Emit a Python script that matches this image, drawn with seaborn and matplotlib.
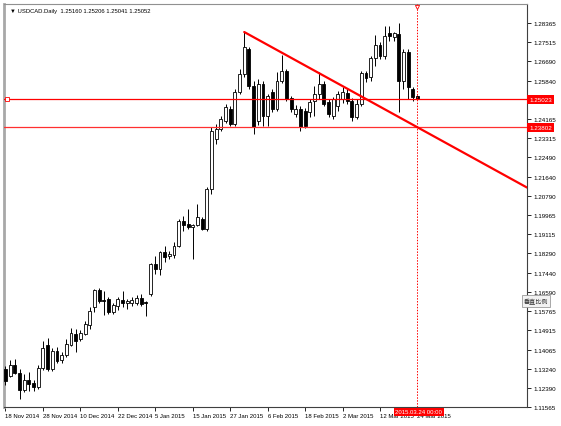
import numpy as np
import pandas as pd
import matplotlib
matplotlib.use("Agg")
import matplotlib.pyplot as plt
import matplotlib.transforms as mtransforms
import seaborn as sns

# ---- data ----
opens = [1.1323, 1.1292, 1.1340, 1.1305, 1.1231, 1.1275, 1.1262, 1.1244, 1.1327, 1.1428,
         1.1323, 1.1402, 1.1362, 1.1384, 1.1428, 1.1476, 1.1454, 1.1476, 1.1515, 1.1594,
         1.1668, 1.1624, 1.1629, 1.1572, 1.1598, 1.1625, 1.1612, 1.1612, 1.1612, 1.1633,
         1.1616, 1.1651, 1.1782, 1.1760, 1.1835, 1.1817, 1.1822, 1.1861, 1.1970, 1.1957,
         1.1944, 1.1953, 1.1979, 1.1935, 1.2110, 1.2329, 1.2373, 1.2408, 1.2460, 1.2395,
         1.2535, 1.2613, 1.2723, 1.2561, 1.2408, 1.2570, 1.2430, 1.2535, 1.2460, 1.2583,
         1.2627, 1.2508, 1.2438, 1.2460, 1.2452, 1.2447, 1.2495, 1.2526, 1.2570, 1.2491,
         1.2430, 1.2473, 1.2504, 1.2530, 1.2495, 1.2425, 1.2482, 1.2618, 1.2600, 1.2683,
         1.2740, 1.2692, 1.2793, 1.2775, 1.2788, 1.2583, 1.2710, 1.2548, 1.25160]
highs = [1.1336, 1.1362, 1.1367, 1.1323, 1.1301, 1.1310, 1.1275, 1.1340, 1.1445, 1.1458,
         1.1415, 1.1419, 1.1397, 1.1454, 1.1502, 1.1498, 1.1493, 1.1533, 1.1594, 1.1673,
         1.1677, 1.1664, 1.1638, 1.1612, 1.1638, 1.1664, 1.1629, 1.1638, 1.1647, 1.1651,
         1.1620, 1.1787, 1.1817, 1.1839, 1.1861, 1.1839, 1.1878, 1.1979, 1.1992, 1.2023,
         1.1957, 1.2045, 1.1988, 1.2119, 1.2381, 1.2395, 1.2430, 1.2482, 1.2473, 1.2548,
         1.2635, 1.2797, 1.2732, 1.2583, 1.2592, 1.2583, 1.2526, 1.2548, 1.2622, 1.2697,
         1.2635, 1.2517, 1.2478, 1.2473, 1.2465, 1.2504, 1.2561, 1.2622, 1.2583, 1.2504,
         1.2513, 1.2539, 1.2556, 1.2548, 1.2508, 1.2504, 1.2627, 1.2627, 1.2692, 1.2784,
         1.2753, 1.2823, 1.2823, 1.2797, 1.2837, 1.2723, 1.2723, 1.2557, 1.25206]
lows = [1.1253, 1.1288, 1.1301, 1.1192, 1.1222, 1.1227, 1.1227, 1.1235, 1.1318, 1.1314,
        1.1314, 1.1349, 1.1349, 1.1375, 1.1423, 1.1397, 1.1445, 1.1472, 1.1498, 1.1572,
        1.1612, 1.1559, 1.1563, 1.1563, 1.1581, 1.1594, 1.1585, 1.1598, 1.1603, 1.1598,
        1.1555, 1.1642, 1.1738, 1.1734, 1.1791, 1.1804, 1.1808, 1.1857, 1.1927, 1.1935,
        1.1804, 1.1948, 1.1931, 1.1927, 1.2088, 1.2307, 1.2364, 1.2399, 1.2386, 1.2386,
        1.2526, 1.2600, 1.2548, 1.2351, 1.2390, 1.2386, 1.2386, 1.2447, 1.2452, 1.2574,
        1.2495, 1.2447, 1.2425, 1.2364, 1.2377, 1.2425, 1.2430, 1.2504, 1.2473, 1.2425,
        1.2417, 1.2452, 1.2486, 1.2482, 1.2408, 1.2417, 1.2473, 1.2578, 1.2583, 1.2648,
        1.2679, 1.2679, 1.2758, 1.2758, 1.2447, 1.2548, 1.2504, 1.2495, 1.25041]
closes = [1.1270, 1.1340, 1.1305, 1.1231, 1.1275, 1.1257, 1.1244, 1.1327, 1.1415, 1.1323,
          1.1402, 1.1358, 1.1384, 1.1432, 1.1480, 1.1445, 1.1480, 1.1520, 1.1577, 1.1668,
          1.1620, 1.1621, 1.1572, 1.1603, 1.1629, 1.1612, 1.1620, 1.1625, 1.1633, 1.1607,
          1.1612, 1.1782, 1.1760, 1.1835, 1.1813, 1.1826, 1.1861, 1.1970, 1.1953, 1.1944,
          1.1953, 1.1988, 1.1935, 1.2110, 1.2364, 1.2373, 1.2417, 1.2469, 1.2395, 1.2535,
          1.2613, 1.2732, 1.2561, 1.2382, 1.2570, 1.2430, 1.2517, 1.2460, 1.2583, 1.2627,
          1.2504, 1.2460, 1.2460, 1.2382, 1.2386, 1.2491, 1.2526, 1.2570, 1.2482, 1.2438,
          1.2504, 1.2526, 1.2535, 1.2495, 1.2425, 1.2482, 1.2618, 1.2596, 1.2683, 1.2740,
          1.2692, 1.2780, 1.2780, 1.2793, 1.2583, 1.2710, 1.2557, 1.2513, 1.25052]

date_labels = ["18 Nov 2014", "28 Nov 2014", "10 Dec 2014", "22 Dec 2014", "5 Jan 2015",
               "15 Jan 2015", "27 Jan 2015", "6 Feb 2015", "18 Feb 2015", "2 Mar 2015",
               "12 Mar 2015", "24 Mar 2015"]
price_ticks = [1.28365, 1.27515, 1.26690, 1.25840, 1.24165, 1.23315, 1.22490, 1.21640,
               1.20790, 1.19965, 1.19115, 1.18290, 1.17440, 1.16590, 1.15765, 1.14915,
               1.14065, 1.13240, 1.12390, 1.11565]
hlines = [1.25023, 1.23802]
trend_x = [51, 88]
trend_y = [1.27970, 1.23802]
cursor_bar = 88
cursor_label = "2015.03.24 00:00"
title = "\u25BC USDCAD.Daily  1.25160 1.25206 1.25041 1.25052"

# ---- style ----
sns.set_theme(style="white")
plt.rcParams['font.family'] = ['Liberation Sans', 'DejaVu Sans']

W, H = 561, 427
fig = plt.figure(figsize=(W / 100, H / 100), dpi=100)
ax = fig.add_axes([4 / W, 19 / H, 523 / W, 403 / H])

df = pd.DataFrame({"o": opens, "h": highs, "l": lows, "c": closes})
df["i"] = np.arange(len(df))
up = df["c"] >= df["o"]

x_lo, x_hi = -0.32, 111.4
ax.set_xlim(x_lo, x_hi)
ax.set_ylim(1.11565, 1.29196)

# candles
ax.vlines(df["i"], df["l"], df["h"], color="black", lw=0.7, zorder=3)
body_bottom = np.minimum(df["o"], df["c"])
body_h = np.maximum(np.abs(df["c"] - df["o"]), 0.00004)
ax.bar(df["i"], body_h, bottom=body_bottom, width=0.62,
       color=np.where(up, "white", "black"), edgecolor="black", linewidth=0.6, zorder=4)

# horizontal lines
ax.axhline(hlines[0], color="#ff0000", lw=0.9, zorder=5)
ax.axhline(hlines[1], color="#ff3030", lw=0.9, zorder=5)
ax.plot([0.25], [hlines[0]], marker="s", ms=2.6, mfc="white", mec="red", mew=0.6, zorder=7)

# trend line (ray)
slope = (trend_y[1] - trend_y[0]) / (trend_x[1] - trend_x[0])
tx = [trend_x[0], x_hi]
ty = [trend_y[0], trend_y[0] + slope * (x_hi - trend_x[0])]
sns.lineplot(x=tx, y=ty, color="#ff0000", lw=1.6, ax=ax, zorder=6)

# cursor dotted vertical
ax.axvline(cursor_bar, color="red", lw=0.7, ls=(0, (1.5, 1.5)), zorder=5)
ax.plot([cursor_bar], [1.2905], marker="v", ms=3, mfc="white", mec="red", mew=0.6,
        zorder=7, clip_on=False)

# axes / ticks
ax.yaxis.tick_right()
ax.set_yticks(price_ticks)
ax.set_yticklabels([f"{v:.5f}" for v in price_ticks])
ax.tick_params(axis="y", right=True, left=False, labelright=True, labelleft=False,
               direction="out", length=3, width=0.6, labelsize=4.5, pad=2, colors="black")
ax.set_xticks(np.arange(0, len(df), 8))
ax.set_xticklabels(date_labels, ha="left")
ax.tick_params(axis="x", bottom=True, direction="out", length=3, width=0.6,
               labelsize=4.3, pad=1, colors="black")
ax.set_xlabel("")
ax.set_ylabel("")
if ax.get_legend():
    ax.get_legend().remove()

for side, col, lw in [("left", "#a8a8a8", 2.0), ("top", "#909090", 0.8),
                      ("right", "#404040", 0.8), ("bottom", "#404040", 0.8)]:
    ax.spines[side].set_visible(True)
    ax.spines[side].set_color(col)
    ax.spines[side].set_linewidth(lw)

# price labels on axis
tr_y = mtransforms.blended_transform_factory(ax.transAxes, ax.transData)
for v in hlines:
    ax.text(1.004, v, f"{v:.5f}", transform=tr_y, ha="left", va="center",
            fontsize=4.5, color="white", zorder=10, clip_on=False,
            bbox=dict(boxstyle="square,pad=0.3", fc="red", ec="red", lw=0))

# cursor date label
tr_x = mtransforms.blended_transform_factory(ax.transData, ax.transAxes)
ax.text(cursor_bar + 0.3, -0.006, cursor_label, transform=tr_x, ha="center", va="top",
        fontsize=4.3, color="white", zorder=10, clip_on=False,
        bbox=dict(boxstyle="square,pad=0.3", fc="red", ec="red", lw=0))

# title
fig.text(10 / W, 1 - 11 / H, title, fontsize=4.2, va="center", ha="left", color="black")

# vertical scale button
fig.text(536 / W, 1 - 302 / H, "垂直比例", fontsize=4.4,
         family=["Noto Sans CJK SC", "DejaVu Sans"], ha="center", va="center", color="#303030",
         bbox=dict(boxstyle="square,pad=0.3", fc="#f2f2f2", ec="#9a9a9a", lw=0.6))

fig.savefig("out.png", dpi=100)
